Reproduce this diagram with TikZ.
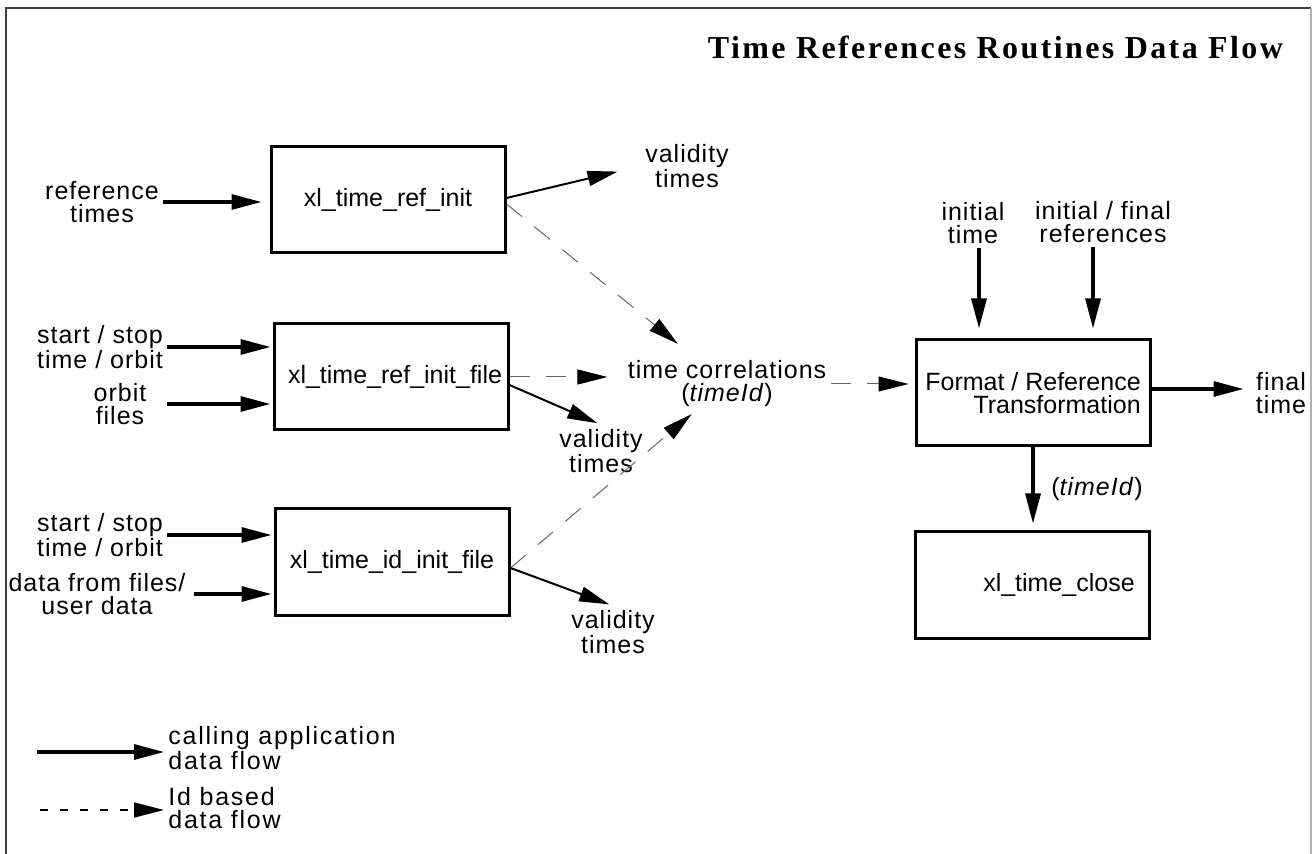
\documentclass[tikz,border=0pt]{standalone}
\usepackage{fontspec}
\setmainfont{Liberation Sans}
\newfontfamily\titlefont{Liberation Serif}[LetterSpace=7.5]
\usetikzlibrary{arrows.meta}

\begin{document}
\begin{tikzpicture}[x=0.5pt, y=-0.5pt, font=\fontsize{12.5}{11.5}\selectfont,
  box/.style={draw, line width=1.5pt, minimum width=117pt, minimum height=53pt, inner sep=0pt},
  lbl/.style={align=center, inner sep=2pt, font=\fontsize{12.5}{11.5}\selectfont\addfontfeature{LetterSpace=4}},
  leglbl/.style={align=left, inner sep=2pt, anchor=west, font=\fontsize{12.5}{11.5}\selectfont\addfontfeature{LetterSpace=7}},
  flow/.style={line width=1.6pt, -{Triangle[length=15pt, width=7.5pt]}},
  thinflow/.style={line width=1pt, -{Triangle[length=15pt, width=7.5pt]}},
  idflow/.style={line width=0.5pt, black!60, dash pattern=on 10pt off 8pt, -{Triangle[length=15pt, width=7.5pt, black]}},
  legid/.style={line width=0.8pt, dash pattern=on 4pt off 6pt, -{Triangle[length=15pt, width=7.5pt]}}]

\useasboundingbox (0,0) rectangle (1315,854);
\draw[line width=1pt, black!75] (6,854) -- (6,8) -- (1311,8);
\draw[line width=0.6pt, black!30] (1311,8) -- (1311,854);

\node[anchor=east, font=\titlefont\bfseries\fontsize{16}{18}\selectfont] (title) at (1290,47) {Time References Routines Data Flow};

\node[box] (refinit) at (388,200) {xl\_time\_ref\_init};
\node[box] (refinitfile) at (391,377) {\hspace*{4pt}xl\_time\_ref\_init\_file};
\node[box] (idinitfile) at (392,562) {xl\_time\_id\_init\_file};
\node[box, align=right] (fmtref) at (1033,393) {Format / Reference\\Transformation};
\node[box] (close) at (1032,585) {\hspace*{27pt}xl\_time\_close};

\node[lbl] (reftimes) at (102,202) {reference\\times};
\node[lbl] (stso1) at (100,347) {start / stop\\time / orbit};
\node[lbl] (orbfiles) at (120,404) {orbit\\files};
\node[lbl] (stso2) at (100,535) {start / stop\\time / orbit};
\node[lbl] (userdata) at (97,594) {data from files/\\user data};
\node[lbl] (valid1) at (687,166) {validity\\times};
\node[lbl] (valid2) at (601,451) {validity\\times};
\node[lbl] (valid3) at (613,632) {validity\\times};
\node[lbl] (tcorr) at (727,384) {time correlations\\(\textit{timeId})};
\node[lbl] (itime) at (973,223) {initial\\time};
\node[lbl] (refs) at (1103,222) {initial / final\\references};
\node[lbl] (ftime) at (1281,393) {final\\time};

\draw[flow, shorten >=4pt] (reftimes.east) -- (refinit.west |- reftimes.east);
\draw[flow, shorten >=1pt] (stso1.east) -- (refinitfile.west |- stso1.east);
\draw[flow, shorten >=1pt] ([xshift=8pt]orbfiles.east) -- (refinitfile.west |- orbfiles.east);
\draw[flow, shorten >=1pt] (stso2.east) -- (idinitfile.west |- stso2.east);
\draw[flow, shorten >=1pt] ([xshift=2pt]userdata.east) -- (idinitfile.west |- userdata.east);

\draw[thinflow, shorten >=12pt] ([yshift=1pt]refinit.east) -- (valid1.west);
\draw[idflow, shorten >=10pt] ([yshift=-2pt]refinit.east) -- (tcorr);
\draw[idflow, shorten >=8pt] (refinitfile.east) -- (tcorr.west |- refinitfile.east);
\draw[thinflow, shorten >=2pt] ([yshift=-4pt]refinitfile.east) -- (valid2.north);
\draw[idflow, shorten >=2pt] ([yshift=-3pt]idinitfile.east) -- (tcorr);
\draw[thinflow, shorten >=2pt] ([yshift=-3pt]idinitfile.east) -- (valid3.north);

\draw[idflow, shorten >=3pt] (tcorr.east) -- (fmtref.west |- tcorr.east);
\draw[flow, shorten >=5pt] ([xshift=3pt]itime.south) -- ([xshift=3pt]itime.south |- fmtref.north);
\draw[flow, shorten >=5pt] ([xshift=-5pt]refs.south) -- ([xshift=-5pt]refs.south |- fmtref.north);
\draw[flow, shorten >=4pt] ([yshift=2pt]fmtref.east) -- ([yshift=2pt]ftime.west);
\draw[flow, shorten >=3.5pt] (fmtref.south) -- node[right=5pt, font=\fontsize{12.5}{11.5}\selectfont\addfontfeature{LetterSpace=4}] {(\textit{timeId})} (fmtref.south |- close.north);

\coordinate (leg1s) at (37,752);
\node[leglbl] (leg1) at (164,748) {calling application\\data flow};
\draw[flow] (leg1s) -- (leg1.west |- leg1s);
\coordinate (leg2s) at (40,810);
\node[leglbl] (leg2) at (164,808) {Id based\\data flow};
\draw[legid] (leg2s) -- (leg2.west |- leg2s);

\end{tikzpicture}
\end{document}
